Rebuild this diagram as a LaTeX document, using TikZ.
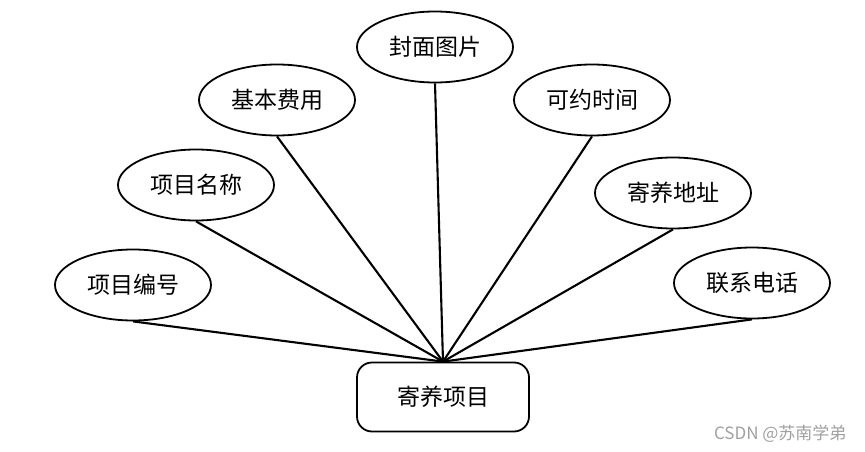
\documentclass[tikz,border=0pt]{standalone}
\usepackage{fontspec}
\usepackage{xcolor}
\usepackage{tikz}
\usetikzlibrary{positioning,shapes.geometric}
\setmainfont{Noto Sans CJK SC}
\definecolor{ink}{HTML}{000000}
\definecolor{mark}{HTML}{A0A0A0}

\begin{document}
\begin{tikzpicture}[
  x=1pt,y=-1pt,
  attr/.style={ellipse,draw=ink,line width=1.8pt,minimum width=156pt,
               minimum height=71pt,inner sep=0pt,font=\fontsize{23}{27}\selectfont},
  entity/.style={draw=ink,line width=1.8pt,rounded corners=15pt,minimum width=172pt,
                 minimum height=69pt,font=\fontsize{23}{27}\selectfont},
  ln/.style={draw=ink,line width=2.1pt}
]
\useasboundingbox (0,0) rectangle (865,452);

\node[entity] (ent) at (443,397) {寄养项目};

\node[attr] (bh) at (133,285) {项目编号};
\node[attr] (mc) at (196,185) {项目名称};
\node[attr] (fy) at (277,100) {基本费用};
\node[attr] (tp) at (435,47) {封面图片};
\node[attr] (sj) at (592,100) {可约时间};
\node[attr] (dz) at (673,193) {寄养地址};
\node[attr] (dh) at (752,283) {联系电话};

\draw[ln] (bh.south) -- (ent.north);
\draw[ln] (mc.south) -- (ent.north);
\draw[ln] (fy.south) -- (ent.north);
\draw[ln] (tp.south) -- (ent.north);
\draw[ln] (sj.south) -- (ent.north);
\draw[ln] (dz.south) -- (ent.north);
\draw[ln] (dh.south) -- (ent.north);

\node[font=\fontsize{17}{20}\selectfont,text=mark,anchor=east] (wm) at (850,434) {CSDN @苏南学弟};
\end{tikzpicture}
\end{document}
